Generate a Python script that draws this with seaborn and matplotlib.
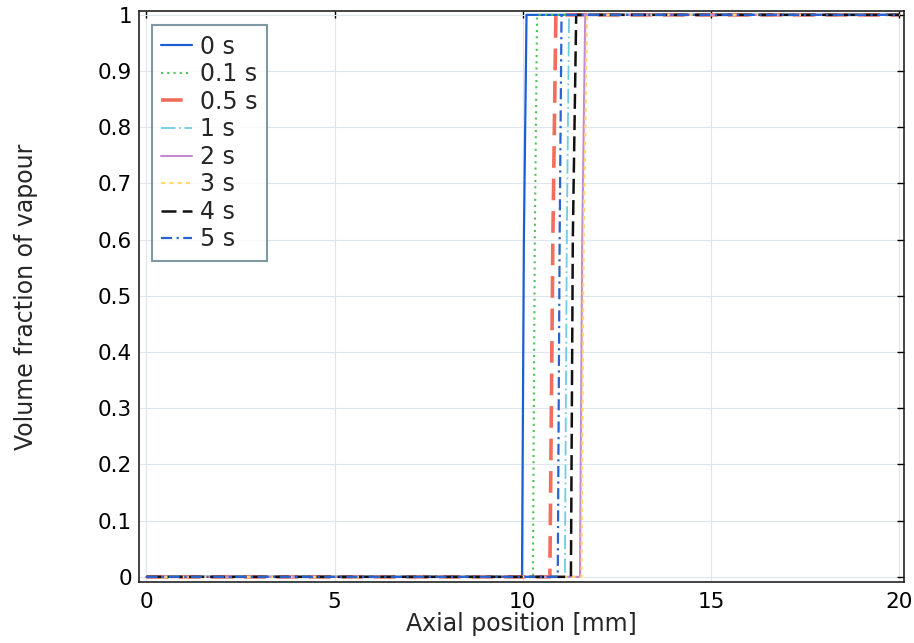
import numpy as np
import pandas as pd
import seaborn as sns
import matplotlib.pyplot as plt

# времена и положение фронта пара (мм)
times = ['0 s', '0.1 s', '0.5 s', '1 s', '2 s', '3 s', '4 s', '5 s']
x_foot = [9.98, 10.27, 10.72, 11.12, 11.52, 11.56, 11.28, 10.93]
x_mid = [10.03, 10.32, 10.80, 11.17, 11.58, 11.62, 11.33, 10.98]
x_top = [10.10, 10.38, 10.88, 11.23, 11.66, 11.71, 11.42, 11.03]
y_levels = [0.0, 0.0, 0.6, 1.0, 1.0]
x_start, x_end = 0.0, 20.0

colors = ['#1a5fd6', '#4cc552', '#f26d5b', '#6fcde0', '#c58ad6', '#ffd86a', '#111111', '#2a62d0']
styles = ['-', (0, (1, 2)), (0, (6, 3)), (0, (8, 2, 1, 2)), '-', (0, (2, 2)), (0, (6, 2.5)), (0, (5, 2, 1, 2))]
widths = [1.6, 1.5, 2.6, 1.3, 1.5, 1.5, 1.8, 1.6]

rows = []
for t, a, b, c in zip(times, x_foot, x_mid, x_top):
    xs = [x_start, a, b, c, x_end]
    for i, (xv, yv) in enumerate(zip(xs, y_levels)):
        rows.append({'time': t, 'x': xv, 'y': yv, 'order': i})
df = pd.DataFrame(rows)

sns.set_style('white')
plt.rcParams['font.family'] = ['DejaVu Sans']

fig = plt.figure(figsize=(9.14, 6.43), dpi=100)
ax = fig.add_axes([0.152, 0.095, 0.837, 0.888])

for t, col, ls, lw in zip(times, colors, styles, widths):
    sub = df[df['time'] == t]
    sns.lineplot(data=sub, x='x', y='y', sort=False, estimator=None, ax=ax,
                 color=col, linestyle=ls, linewidth=lw, label=t)

ax.set_xlim(-0.2, 20.13)
ax.set_ylim(-0.009, 1.007)
ax.set_xticks([0, 5, 10, 15, 20])
ax.set_xticklabels(['0', '5', '10', '15', '20'])
ax.set_yticks(np.round(np.arange(0, 1.01, 0.1), 1))
ax.set_yticklabels(['0'] + ['%.1f' % v for v in np.arange(0.1, 0.95, 0.1)] + ['1'])
ax.grid(True, color='#dde6ee', linewidth=0.8)
ax.tick_params(direction='in', length=5, width=1, top=True, right=True,
               labelsize=15.5, colors='black')
ax.tick_params(axis='x', pad=7)
ax.tick_params(axis='y', pad=5)
for s in ax.spines.values():
    s.set_color('#222222')
    s.set_linewidth(1.2)

ax.set_xlabel('Axial position [mm]', fontsize=17, labelpad=0)
ax.set_ylabel('Volume fraction of vapour', fontsize=17, labelpad=43)

leg = ax.legend(loc='upper left', bbox_to_anchor=(0.017, 0.975), fontsize=17,
                frameon=True, fancybox=False, handlelength=1.3, handletextpad=0.35,
                labelspacing=0.15, borderpad=0.4, borderaxespad=0)
leg.get_frame().set_edgecolor('#5f7f8c')
leg.get_frame().set_linewidth(1.5)

fig.savefig('out.png', dpi=100)
